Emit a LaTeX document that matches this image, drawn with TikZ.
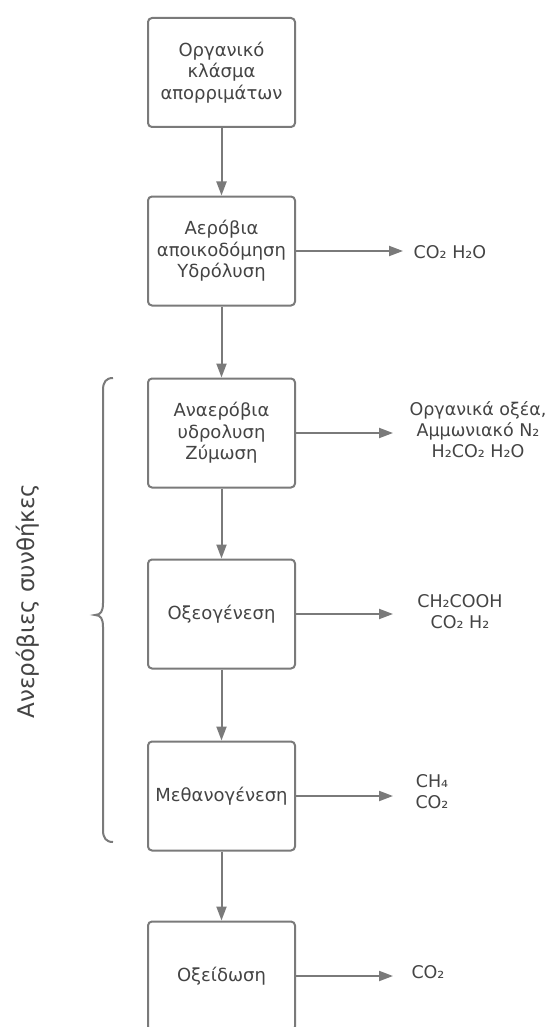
\documentclass[tikz,border=0pt]{standalone}
\usepackage{fontspec}
\setmainfont{DejaVu Sans}
\usetikzlibrary{arrows.meta}
\definecolor{linegray}{HTML}{7A7A7A}
\definecolor{textgray}{HTML}{444444}
\tikzset{
  stepbox/.style={draw=linegray, line width=2pt, rounded corners=4pt, fill=white,
    minimum width=147pt, minimum height=109pt, align=center, text=textgray,
    font=\fontsize{18}{21.5}\selectfont, inner sep=0pt},
  outlabel/.style={align=center, text=textgray, font=\fontsize{17.5}{21}\selectfont, inner sep=0pt},
  flow/.style={draw=linegray, line width=2pt, -{Triangle[length=14pt,width=10pt]}},
  bracepath/.style={draw=linegray, line width=2pt},
}
\begin{document}
\begin{tikzpicture}[x=1pt,y=-1pt]
\useasboundingbox (0,0) rectangle (550,1027);
\clip (0,0) rectangle (550,1027);
\fill[white] (0,0) rectangle (550,1027);

\node[stepbox] (b1) at (221.5,72.5) {Οργανικό\\κλάσμα\\απορριμάτων};
\node[stepbox] (b2) at (221.5,251) {Αερόβια\\αποικοδόμηση\\Υδρόλυση};
\node[stepbox] (b3) at (221.5,433) {Αναερόβια\\υδρολυση\\Ζύμωση};
\node[stepbox] (b4) at (221.5,614) {Οξεογένεση};
\node[stepbox] (b5) at (221.5,796) {Μεθανογένεση};
\node[stepbox] (b6) at (221.5,976) {Οξείδωση};

\draw[flow] (b1) -- (b2);
\draw[flow] (b2) -- (b3);
\draw[flow] (b3) -- (b4);
\draw[flow] (b4) -- (b5);
\draw[flow] (b5) -- (b6);

\coordinate (t2) at (403,251);
\coordinate (t3) at (393,433);
\coordinate (t4) at (393,614);
\coordinate (t5) at (393,796);
\coordinate (t6) at (393,976);
\draw[flow] (b2.east) -- (t2);
\draw[flow] (b3.east) -- (t3);
\draw[flow] (b4.east) -- (t4);
\draw[flow] (b5.east) -- (t5);
\draw[flow] (b6.east) -- (t6);

\node[outlabel] (l2) at (450,252) {CO₂ H₂O};
\node[outlabel] (l3) at (478,430) {Οργανικά οξέα,\\Αμμωνιακό N₂\\H₂CO₂ H₂O};
\node[outlabel] (l4) at (460,612) {CH₂COOH\\CO₂ H₂};
\node[outlabel] (l5) at (432,792) {CH₄\\CO₂};
\node[outlabel] (l6) at (428,972) {CO₂};

\draw[bracepath] (113,378) .. controls (106,378) and (103,382) .. (103,390)
  -- (103,603) .. controls (103,611) and (101,615) .. (95,615)
  .. controls (101,615) and (103,619) .. (103,627)
  -- (103,830) .. controls (103,838) and (106,842) .. (113,842);

\node[rotate=90, text=textgray, font=\fontsize{23}{27}\selectfont, inner sep=0pt] (cond) at (28,601) {Ανερόβιες συνθήκες};
\end{tikzpicture}
\end{document}
